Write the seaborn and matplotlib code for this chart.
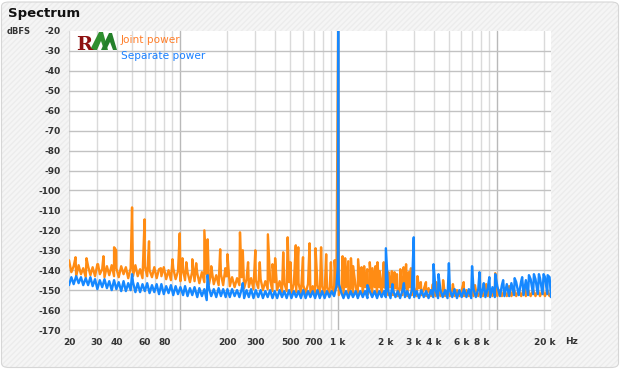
import numpy as np
import pandas as pd
import matplotlib
matplotlib.use("Agg")
import matplotlib.pyplot as plt
import seaborn as sns
from matplotlib.patches import FancyBboxPatch, Polygon
from matplotlib.ticker import FixedLocator, FixedFormatter, NullLocator

# ---------------- data ----------------
freq_hz = [
    20.0, 20.7, 21.4, 22.2, 23.0, 23.8, 24.6, 25.5, 26.4, 27.3, 28.2, 29.2, 30.2, 31.3, 32.4, 33.5, 34.7,
    35.9, 37.2, 38.5, 39.8, 41.2, 42.7, 44.2, 45.7, 47.3, 49.0, 50.7, 52.5, 54.3, 56.2, 58.2, 60.2, 62.3,
    64.5, 66.8, 69.1, 71.5, 74.0, 76.6, 79.3, 82.1, 85.0, 88.0, 91.0, 94.2, 97.5, 101, 105, 108, 112, 116,
    120, 124, 129, 133, 138, 143, 148, 153, 158, 164, 170, 176, 182, 188, 195,
    200, 207, 214, 222, 230, 238, 246, 255, 264, 273, 282, 292, 302, 313, 324, 335, 347,
    359, 372, 385, 398, 412, 427, 442, 457, 473, 490, 507, 525, 543, 562, 582, 602, 623,
    645, 668, 691, 715, 740, 766, 793, 821, 850, 880, 910, 942, 975, 1010, 1050, 1080, 1120, 1160,
    1200, 1240, 1290, 1330, 1380, 1430, 1480, 1530, 1580, 1640, 1700, 1760, 1820, 1880, 1950,
    2000, 2070, 2140, 2220, 2300, 2380, 2460, 2550, 2640, 2730, 2820, 2920, 3020, 3130, 3240, 3350, 3470,
    3590, 3720, 3850, 3980, 4120, 4270, 4420, 4570, 4730, 4900, 5070, 5250, 5430, 5620, 5820, 6020, 6230,
    6450, 6680, 6910, 7150, 7400, 7660, 7930, 8210, 8500, 8800, 9100, 9420, 9750, 10100, 10500, 10800, 11200, 11600,
    12000, 12400, 12900, 13300, 13800, 14300, 14800, 15300, 15800, 16400, 17000, 17600, 18200, 18800, 19500,
    20200, 20900, 21600, 22050,
]

joint_floor_db = [
    -135, -141, -138, -143, -137.5, -142, -139, -143.5, -138, -142.5,
    -138.5, -143, -137, -142, -139.5, -143.5, -138, -142.5, -137.5, -143,
    -139, -143.5, -138, -142, -138.5, -144, -139, -143, -137.5, -143,
    -139.5, -144, -138, -143, -140, -143.5, -138.5, -144, -139.5, -143,
    -138.5, -144.5, -140, -145, -139, -144.5, -140.5, -145.5, -140, -145,
    -141, -146, -140.5, -145.5, -141.5, -146.5, -141, -146, -142, -147,
    -141.5, -147, -142.5, -147.5, -142, -147.5, -143,
    -143, -148, -143.5, -148.5, -144, -147.5, -143.5, -149, -144.5, -148.5,
    -144, -149.5, -145, -149, -144.5, -150, -145.5, -149.5, -145, -150.5,
    -146, -150, -145.5, -151, -146.5, -150.5, -146, -151.5, -147, -151,
    -146.5, -152, -147.5, -151.5, -147, -152, -148, -152, -147.5, -152.5,
    -148, -152, -148.5, -152.5, -148, -152.5, -148.5, -152.5, -148, -152.5,
    -148.5, -152.5, -148, -152.5, -148.5, -152.5, -148, -152.5, -148.5, -152.5,
    -148.5, -152.5, -148.5, -152.5, -148.5, -152.5, -148.5,
    -149, -152.5, -148.5, -152.5, -149, -153, -148.5, -152.5, -149, -153,
    -148.5, -152.5, -149, -153, -149, -152.5, -149.5, -153, -149, -153,
    -149.5, -153, -149.5, -153, -149.5, -153, -150, -153, -150, -153,
    -150, -153, -150, -153, -150, -153, -150, -153, -150, -153,
    -150, -153, -150, -153, -150, -153, -150, -153, -150, -153,
    -150, -153, -150, -153, -150, -153, -150, -153, -150, -153,
    -150, -153, -150, -153, -150, -153, -150,
    -153, -150, -153, -152,
]

separate_floor_db = [
    -147.5, -143.5, -147, -143, -146.5, -143.5, -147.5, -144, -147.5, -143.5,
    -148, -144.5, -149.5, -145, -148.5, -144.5, -149, -145.5, -150, -145,
    -149.5, -146, -150.5, -145.5, -150.5, -146.5, -150, -146, -151, -146.5,
    -151, -147, -150.5, -146.5, -151.5, -147.5, -151, -147, -152, -147,
    -152, -148, -151.5, -147.5, -152.5, -148, -152, -148.5, -152.5, -148,
    -153, -149, -152.5, -148.5, -153.5, -149, -153, -149.5, -155, -149,
    -153, -149.5, -153.5, -149, -153, -149.5, -153.5,
    -149.5, -153.5, -149.5, -153, -150, -153.5, -149.5, -154, -150, -153.5,
    -149.5, -154, -150, -153.5, -150, -154, -150.5, -153.5, -150, -154,
    -150.5, -154, -150, -153.5, -150.5, -154, -150, -154, -150.5, -153.5,
    -150.5, -154, -150, -154, -150.5, -153.5, -150.5, -154, -150, -154,
    -150.5, -154, -150.5, -153.5, -150.5, -153, -148, -147, -151.5, -154,
    -150.5, -154, -150.5, -153.5, -150.5, -154, -150.5, -153.5, -150.5, -154,
    -150.5, -153.5, -150.5, -154, -150.5, -153.5, -150.5,
    -153.5, -150.5, -154, -150, -153.5, -150.5, -154, -150, -153.5, -150.5,
    -154, -150, -153.5, -150.5, -154, -150, -153.5, -150.5, -154, -150,
    -153.5, -150, -154, -150, -153.5, -150, -154, -150, -153.5, -149.5,
    -154, -150, -153.5, -149.5, -153.5, -149.5, -154, -149.5, -153.5, -149.5,
    -153.5, -149, -153.5, -149, -153.5, -148.5, -153.5, -148, -153, -147.5,
    -153, -147, -153, -146.5, -152.5, -146, -152.5, -145.5, -152.5, -145,
    -152.5, -144.5, -152, -144.5, -152, -144, -152,
    -143.5, -152, -143.5, -153.5,
]

joint_spike_hz = [
    22, 25.8, 30.5, 33, 38.5, 39.7, 50, 60, 64, 76, 90, 100, 104, 110, 120, 127, 143, 150, 158, 180,
    194, 200, 240, 250, 270, 300, 320, 360, 385, 400, 450, 480, 500, 540, 560, 600, 660, 720, 780,
    840, 900, 950, 1000, 1066, 1107, 1158, 1204, 1244, 1336, 1404, 1459, 1525, 1583, 1646, 1719,
    1770, 1830, 1940, 2078, 2183, 2268, 2350, 2467, 2590, 2683, 2790, 2880, 3165, 3326, 3583, 3960,
    4150, 4595, 5300, 6200, 7300, 8600, 9800, 12000, 15000,
]
joint_spike_db = [
    -133.5, -134, -137, -133, -128.5, -130, -108.5, -114.5, -125.5, -139, -134.5, -121.5, -134, -136,
    -134.5, -136.5, -120, -124.5, -138, -129.5, -139, -132, -121, -130, -136, -130, -136, -122, -137,
    -134, -131, -123.5, -136, -127.5, -128.5, -133.5, -126.5, -129, -128.5, -132, -136, -135, -15,
    -133, -134, -135.5, -134, -138, -134.5, -138.5, -138, -139.5, -136, -139, -138, -136, -140.5, -136,
    -141, -140.5, -141, -142, -139.5, -138.5, -137, -141, -139, -143, -146, -146, -147, -146, -145,
    -147, -146, -147.5, -147, -141.5, -148, -148,
]

separate_spike_hz = [
    50, 150, 250, 996, 1000, 1004, 1530, 2000, 2200, 2600, 3000, 4000, 4300, 5000, 7000, 7800, 8300,
    9000, 9800, 11000, 13000, 14500, 16000, 17200, 18500, 19800, 21000,
]
separate_spike_db = [
    -142, -142.5, -146.5, -138, -15, -138, -147.5, -129, -147, -146.5, -123.5, -137, -142, -136.5,
    -138, -141, -146.5, -143.5, -142, -145, -144, -143.5, -142.5, -142, -142, -142, -142.5,
]

y_ticks = [-170, -160, -150, -140, -130, -120, -110, -100, -90, -80, -70, -60, -50, -40, -30, -20]
x_grid_hz = [20, 30, 40, 50, 60, 70, 80, 90, 100, 200, 300, 400, 500, 600, 700, 800, 900,
             1000, 2000, 3000, 4000, 5000, 6000, 7000, 8000, 9000, 10000, 20000]
x_tick_labels = ["20", "30", "40", "", "60", "", "80", "", "", "200", "300", "", "500", "", "700", "", "",
                 "1 k", "2 k", "3 k", "4 k", "", "6 k", "", "8 k", "", "", "20 k"]
x_major_hz = [100, 1000, 10000]

series_names = ["Joint power", "Separate power"]
line_colors = ["#ff8c14", "#1688ff"]
text_colors = ["#ff7f2a", "#1a80ff"]


def build(floor_db, spike_hz, spike_db):
    a = pd.DataFrame({"f": freq_hz, "db": floor_db, "o": 0})
    b = pd.DataFrame({"f": spike_hz, "db": spike_db, "o": 1})
    return pd.concat([a, b]).sort_values(["f", "o"], kind="stable").reset_index(drop=True)


joint = build(joint_floor_db, joint_spike_hz, joint_spike_db)
separate = build(separate_floor_db, separate_spike_hz, separate_spike_db)

# ---------------- style ----------------
sns.set_style("white")
plt.rcParams["font.family"] = ["DejaVu Sans"]

W, H = 620, 369
fig = plt.figure(figsize=(W / 100, H / 100), dpi=100)
fig.patch.set_facecolor("white")


def fx(px):
    return px / W


def fy(py):
    return 1 - py / H


bg = FancyBboxPatch((fx(1.5), fy(367.5)), fx(617), 365.5 / H,
                    boxstyle="round,pad=0,rounding_size=0.012",
                    transform=fig.transFigure, facecolor="#f5f5f5", edgecolor="#ececec",
                    hatch="//////", linewidth=0, zorder=-2)
fig.patches.append(bg)
border = FancyBboxPatch((fx(1.5), fy(367.5)), fx(617), 365.5 / H,
                        boxstyle="round,pad=0,rounding_size=0.012",
                        transform=fig.transFigure, facecolor="none", edgecolor="#d6d6d6",
                        linewidth=0.8, zorder=-1)
fig.patches.append(border)

ax = fig.add_axes([fx(69), fy(330), fx(551 - 69), (330 - 31) / H])
ax.set_facecolor("white")
ax.set_zorder(1)

sns.lineplot(data=joint, x="f", y="db", ax=ax, color=line_colors[0], lw=1.7,
             estimator=None, sort=False, zorder=3)
sns.lineplot(data=separate, x="f", y="db", ax=ax, color=line_colors[1], lw=1.7,
             estimator=None, sort=False, zorder=4)

ax.set_xscale("log")
ax.set_xlim(20, 22050)
ax.set_ylim(-170, -20)
ax.set_xlabel("")
ax.set_ylabel("")

for s in ax.spines.values():
    s.set_visible(False)

ax.xaxis.set_major_locator(FixedLocator(x_grid_hz))
ax.xaxis.set_major_formatter(FixedFormatter(x_tick_labels))
ax.xaxis.set_minor_locator(NullLocator())
ax.set_yticks(y_ticks)
ax.set_yticklabels([str(v) for v in y_ticks])

ax.tick_params(axis="both", length=0, labelsize=6.5, labelcolor="#333333")
ax.tick_params(axis="y", pad=6)
ax.tick_params(axis="x", pad=6)
for lab in ax.get_xticklabels() + ax.get_yticklabels():
    lab.set_fontweight("bold")

# grid
for f in x_grid_hz:
    c = "#b9b9b9" if f in x_major_hz else "#dadada"
    ax.axvline(f, color=c, lw=1.0, zorder=1)
for v in y_ticks[:-1]:
    ax.axhline(v, color="#c2c2c2", lw=1.0, zorder=1)

# texts
fig.text(fx(8), fy(14), "Spectrum", fontsize=9.5, fontweight="bold", color="#111111",
         ha="left", va="center")
fig.text(fx(7), fy(31), "dBFS", fontsize=6, fontweight="bold", color="#333333",
         ha="left", va="center")
fig.text(fx(565), fy(341), "Hz", fontsize=6.5, fontweight="bold", color="#333333",
         ha="left", va="center")

fig.text(fx(121), fy(40), series_names[0], fontsize=7.6, color=text_colors[0], ha="left", va="center",
         zorder=6)
fig.text(fx(121), fy(56), series_names[1], fontsize=7.6, color=text_colors[1], ha="left", va="center",
         zorder=6)

# logo
fig.text(fx(76), fy(50), "R", fontsize=14, fontweight="bold", family=["DejaVu Serif"],
         color="#8e1010", ha="left", va="baseline", zorder=6)


def poly(pts, color):
    fig.patches.append(Polygon([(fx(x), fy(y)) for x, y in pts], closed=True,
                               transform=fig.transFigure, facecolor=color, edgecolor="none",
                               zorder=6))


poly([(90, 50), (99, 32), (103, 32), (108, 50), (104, 50), (101, 41), (97, 50)], "#2f8f2f")
poly([(101, 50), (109, 33), (112, 33), (117, 50), (113, 50), (110, 42), (106, 50)], "#24802a")

fig.savefig("out.png", dpi=100)
